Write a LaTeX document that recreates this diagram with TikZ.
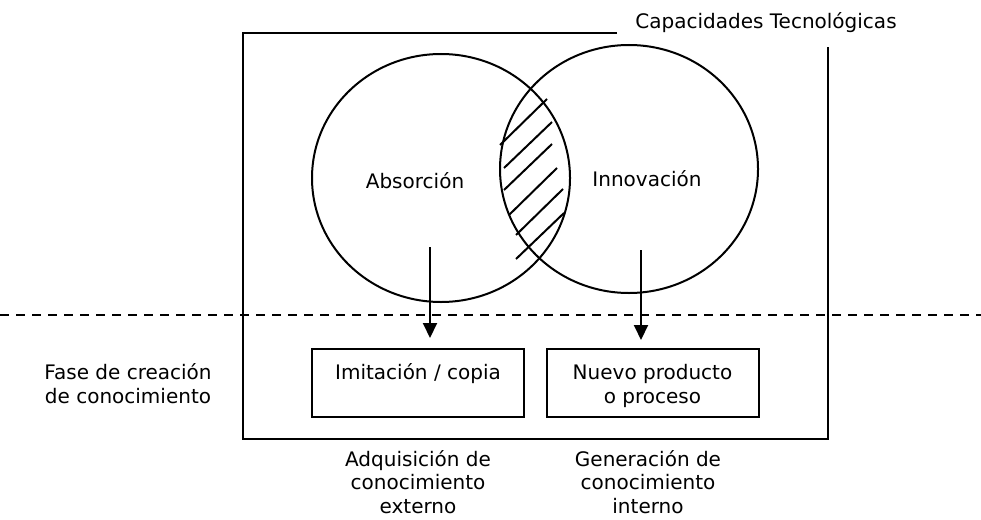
\documentclass[tikz,border=0pt]{standalone}
\usepackage{fontspec}
\setmainfont{DejaVu Sans}
\usetikzlibrary{arrows.meta,shapes.geometric}
\begin{document}
\begin{tikzpicture}[x=1pt,y=-1pt,
  txt/.style={inner sep=0pt,font=\fontsize{20}{23.5}\selectfont,align=center},
  frameline/.style={line width=2.2pt},
  circ/.style={draw,ellipse,line width=2pt,minimum width=258pt,minimum height=248pt,inner sep=0pt},
  boxnode/.style={draw,line width=2pt,minimum width=212pt,minimum height=68pt,inner sep=0pt},
  hatch/.style={line width=2pt},
  arr/.style={line width=2pt,-{Triangle[length=15pt,width=14pt]}}]
\useasboundingbox (0,0) rectangle (981,519);
\fill[white] (0,0) rectangle (981,519);
% frame
\draw[frameline] (617,33) -- (243,33) -- (243,439) -- (828,439) -- (828,47);
\node[txt,anchor=base] (cap) at (766,29) {Capacidades Tecnológicas};
% circles
\node[circ] (absc) at (441,178) {};
\node[circ] (innc) at (629,169) {};
\node[txt,anchor=base] (abs) at (415,188) {Absorción};
\node[txt,anchor=base] (inn) at (647,186) {Innovación};
% hatching
\draw[hatch] (500,145) -- (547,99);
\draw[hatch] (504,168) -- (552,122);
\draw[hatch] (504,190) -- (552,144);
\draw[hatch] (509,215) -- (557,168);
\draw[hatch] (516,235) -- (563,189);
\draw[hatch] (516,259) -- (564,213);
% dashed line
\coordinate (dl) at (0,315);
\coordinate (dr) at (981,315);
\draw[line width=1.8pt,dash pattern=on 9pt off 7pt] (dl) -- (dr);
% boxes
\node[boxnode] (b1) at (418,383) {};
\node[boxnode] (b2) at (652.5,383) {};
\node[txt,anchor=base] (t1) at (418,379) {Imitación / copia};
\node[txt,anchor=base] (t2) at (652.5,403) {Nuevo producto\\o proceso};
% arrows
\coordinate (a1) at (430,247);
\coordinate (a2) at (641,250);
\draw[arr,shorten >=10pt] (a1) -- (a1 |- b1.north);
\draw[arr,shorten >=8pt] (a2) -- (a2 |- b2.north);
% side and bottom labels
\node[txt,anchor=base] (fase) at (128,403) {Fase de creación\\de conocimiento};
\node[txt,anchor=base] (adq) at (418,513) {Adquisición de\\conocimiento\\externo};
\node[txt,anchor=base] (gen) at (648,513) {Generación de\\conocimiento\\interno};
\end{tikzpicture}
\end{document}
